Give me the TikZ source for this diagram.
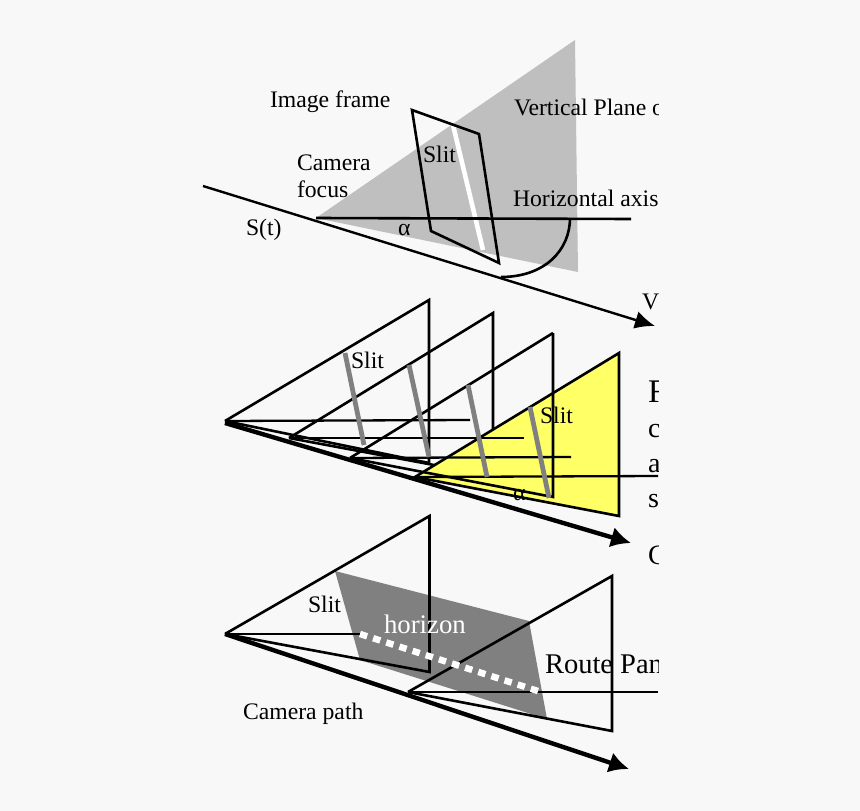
\documentclass[tikz,border=0pt]{standalone}
\usepackage{fontspec}
\setmainfont{Liberation Serif}
\usetikzlibrary{arrows.meta}
\definecolor{bgc}{HTML}{F8F8F8}
\definecolor{pale}{HTML}{BFBFBF}
\definecolor{midg}{HTML}{808080}
\definecolor{yel}{HTML}{FFFF66}
\tikzset{
  ln/.style={draw=black,line width=2.6pt,line join=miter},
  thin ln/.style={draw=black,line width=2.3pt},
  slitbar/.style={draw=midg,line width=4.8pt},
  path arrow/.style={draw=black,line width=2.4pt,-{Latex[length=20pt,width=18pt]}},
  bold arrow/.style={draw=black,line width=4.4pt,-{Latex[length=20pt,width=21pt]}},
  lbl/.style={anchor=base west,inner sep=0pt,outer sep=0pt,font=\fontsize{23.7}{23.7}\selectfont,text=black},
  big/.style={lbl,font=\fontsize{28}{28}\selectfont},
}
\begin{document}
\begin{tikzpicture}[x=1pt,y=-1pt]
\useasboundingbox (0,0) rectangle (860,811);
\fill[bgc] (0,0) rectangle (860,811);
\begin{scope}
\clip (0,0) rectangle (658,811);
% --- top panel
\coordinate (af) at (316,218);
\fill[pale] (af) -- (575,40) -- (578,272) -- cycle;
\draw[draw=white,line width=4.6pt] (453,125) -- (483,250);
\draw[ln] (412,110) -- (479,134) -- (499,263) -- (431,231) -- cycle;
\coordinate (hzend) at (631,219);
\draw[ln] (af) -- (hzend);
\coordinate (sstart) at (203,186);
\coordinate (send) at (655,326);
\draw[path arrow] (sstart) -- (send);
\draw[ln] (501,277) .. controls (545,277) and (570,250) .. (570,218);
\node[lbl] (imgframe) at (270,107) {Image frame};
\node[lbl] (vplane) at (514,115) {Vertical Plane of};
\node[lbl] (camera) at (297,170) {Camera};
\node[lbl] (focus) at (297,197) {focus};
\node[lbl] (st) at (246,235) {S(t)};
\node[lbl] (slit0) at (423,162) {Slit};
\node[lbl] (haxis) at (513,206) {Horizontal axis};
\node[lbl] (alpha0) at (398,235) {α};
\node[lbl] (vlab) at (642,309) {V};
% --- middle panel
\coordinate (a1) at (225,421);
\coordinate (a2) at (289,438);
\coordinate (a3) at (350,458);
\coordinate (a4) at (415,477);
\draw[ln] (a1) -- (429,300) -- (429,463) -- (a1);
\draw[ln] (a2) -- (493,313) -- (493,476) -- (a2);
\draw[ln] (a3) -- (553,333);
\fill[yel] (a4) -- (619,353) -- (619,516) -- cycle;
\draw[ln] (a4) -- (619,353) -- (619,516) -- cycle;
\draw[ln] (553,333) -- (553,497) -- (a3);
\draw[thin ln] (a1) -- (470,420);
\draw[thin ln] (a2) -- (524,438);
\draw[thin ln] (a3) -- (571,457);
\draw[thin ln] (a4) -- (658,476);
\draw[slitbar] (345,353) -- (364,445);
\draw[slitbar] (409,365) -- (429,457);
\draw[slitbar] (468,385) -- (487,477);
\draw[slitbar] (530,407) -- (549,498);
\coordinate (b1s) at (225,423);
\coordinate (b1e) at (631,543);
\draw[bold arrow] (b1s) -- (b1e);
\node[lbl] (slit1) at (351,368) {Slit};
\node[lbl] (slit2) at (540,423) {Slit};
\node[lbl] (alpha1) at (513,500) {α};
\node[big,font=\fontsize{33}{33}\selectfont] (ftxt) at (648,402) {F};
\node[big] (ctxt) at (648,437) {c};
\node[big] (atxt) at (648,472) {a};
\node[big] (stxt) at (648,507) {s};
\node[big] (cc) at (648,564) {C};
% --- bottom panel
\coordinate (c1) at (225,634);
\coordinate (c2) at (408,692);
\fill[midg] (335,571) -- (529,621) -- (547,719) -- (360,660) -- cycle;
\draw[ln] (c1) -- (429.5,516) -- (429.5,672) -- (c1);
\draw[thin ln] (c1) -- (360,634);
\draw[ln] (c2) -- (612,576) -- (612,731) -- (c2);
\draw[thin ln] (c2) -- (658,692);
\draw[draw=white,line width=6.5pt,dash pattern=on 7.5pt off 6.3pt] (360,634) -- (541,692);
\coordinate (b2s) at (225,634);
\coordinate (b2e) at (629,769);
\draw[bold arrow] (b2s) -- (b2e);
\node[lbl] (slit3) at (308,612) {Slit};
\node[lbl,font=\fontsize{26.8}{26.8}\selectfont,text=white] (horizon) at (384,633) {horizon};
\node[lbl,font=\fontsize{28.5}{28.5}\selectfont] (route) at (545,673) {Route Panorama};
\node[lbl] (campath) at (243,719) {Camera path};
\end{scope}
\end{tikzpicture}
\end{document}
